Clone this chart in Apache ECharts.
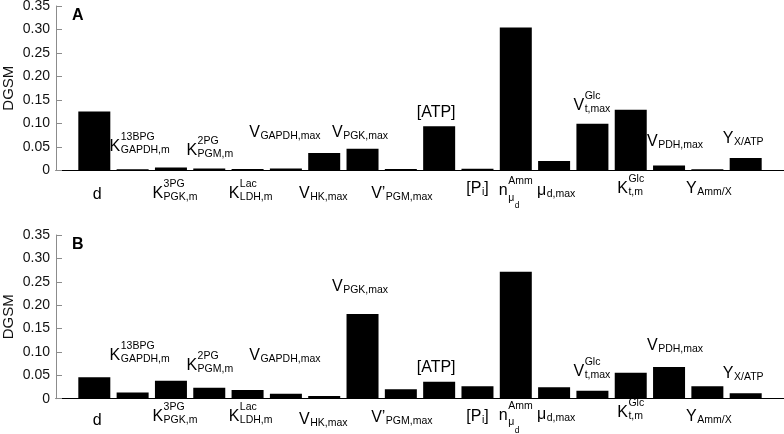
<!DOCTYPE html>
<html><head><meta charset="utf-8">
<script src="https://cdn.jsdelivr.net/npm/echarts@6/dist/echarts.min.js"></script>
<style>html,body{margin:0;padding:0;background:#fff}#c{width:784px;height:434px}</style>
</head><body><div id="c"></div>
<script>
// ---- data ----
const categories = ['d','K13BPG_GAPDH,m','K3PG_PGK,m','K2PG_PGM,m','KLac_LDH,m','V_GAPDH,max','V_HK,max','V_PGK,max',"V'_PGM,max",'[ATP]','[P_i]','n^Amm_mu_d','mu_d,max','V^Glc_t,max','K^Glc_t,m','V_PDH,max','Y_Amm/X','Y_X/ATP'];
const valuesA = [0.125,0.002,0.006,0.004,0.003,0.004,0.037,0.046,0.003,0.094,0.0035,0.304,0.020,0.099,0.129,0.010,0.002,0.026];
const valuesB = [0.046,0.0135,0.0385,0.0235,0.0185,0.0105,0.0058,0.181,0.020,0.0364,0.0264,0.2716,0.0243,0.0172,0.0557,0.0678,0.0264,0.0114];
const yTickValues = [0,0.05,0.10,0.15,0.20,0.25,0.30,0.35];
const panelLetters = ['A','B'];
const yAxisName = 'DGSM';
// label text markup: string = normal text, object = stacked superscript / subscript
const labelParts = [
  ['d'],
  ['K',{sup:'13BPG',sub:'GAPDH,m'}],
  ['K',{sup:'3PG',sub:'PGK,m'}],
  ['K',{sup:'2PG',sub:'PGM,m'}],
  ['K',{sup:'Lac',sub:'LDH,m'}],
  ['V',{sub:'GAPDH,max'}],
  ['V',{sub:'HK,max'}],
  ['V',{sub:'PGK,max'}],
  ['V\u2019',{sub:'PGM,max'}],
  ['[ATP]'],
  ['[P',{sub:'i'},']'],
  ['n',{sup:'Amm',sub:'\u03bc',subsub:'d'}],
  ['\u03bc',{sub:'d,max'}],
  ['V',{sup:'Glc',sub:'t,max'}],
  ['K',{sup:'Glc',sub:'t,m'}],
  ['V',{sub:'PDH,max'}],
  ['Y',{sub:'Amm/X'}],
  ['Y',{sub:'X/ATP'}]
];

// ---- layout (label placement) ----
const labelSide = ['below','above','below','above','below','above','below','above','below','above','below','below','below','above','below','above','below','above'];
const labelLevelA = [null,0.050,null,0.043,null,0.080,null,0.080,null,0.122,null,null,null,0.137,null,0.061,null,0.067];
const labelLevelB = [null,0.093,null,0.070,null,0.092,null,0.239,null,0.067,null,null,null,0.057,null,0.113,null,0.053];
const belowDyA = [24.7,0,23.4,0,23.7,0,23.2,0,23.2,0,18.7,20.7,20.7,0,18.2,0,18.7,0];
const belowDyB = [22.3,0,18,0,18,0,20.5,0,18.8,0,18,16.6,16,0,13.8,0,18,0];
const labelDx = [3,7,4,0.5,3,-1,-1,-2.5,1,-3,0,0,2,-0.5,0,6,1.5,-2.5];
const FAM = '"Liberation Sans", Arial, Helvetica, sans-serif';
const MAIN = 16, SMALL = 10.5, TINY = 8.5;

const cv = document.createElement('canvas').getContext('2d');
function mw(t, s){ cv.font = s + 'px ' + FAM; return cv.measureText(t).width; }
function txt(t, x, y, s){
  return {type:'text', x:x, y:y, style:{text:t, font:'normal ' + s + 'px ' + FAM, fontSize:s, fill:'#000',
    textAlign:'left', textVerticalAlign:'middle', align:'left', verticalAlign:'middle'}};
}
function buildLabel(parts, cx, cy){
  const widths = parts.map(p => {
    if (typeof p === 'string') return mw(p, MAIN);
    const a = p.sup ? mw(p.sup, SMALL) : 0;
    const b = (p.sub ? mw(p.sub, SMALL) : 0) + (p.subsub ? mw(p.subsub, TINY) : 0);
    return Math.max(a, b) + 0.5;
  });
  const total = widths.reduce((s,w)=>s+w,0);
  let x = cx - total/2;
  const out = [];
  parts.forEach((p, k) => {
    if (typeof p === 'string') out.push(txt(p, x, cy, MAIN));
    else {
      const sx = x + 0.5;
      if (p.sup) out.push(txt(p.sup, sx, cy - 9.5, SMALL));
      if (p.subsub) {
        out.push(txt(p.sub, sx, cy + 7, SMALL));
        out.push(txt(p.subsub, sx + mw(p.sub, SMALL) + 0.5, cy + 15, TINY));
      } else if (p.sub) out.push(txt(p.sub, sx, cy + 3.5, SMALL));
    }
    x += widths[k];
  });
  return out;
}
function labelSeries(levels, belowDy, idx){
  return {type:'custom', xAxisIndex:idx, yAxisIndex:idx, clip:false, silent:true, z:10,
    data: categories.map((c,i)=>[i, levels[i]==null ? 0 : levels[i]]),
    renderItem: function(params, api){
      const i = params.dataIndex;
      const x = api.coord([i, 0])[0] + labelDx[i];
      const y = labelSide[i] === 'above' ? api.coord([i, levels[i]])[1] : api.coord([i, 0])[1] + belowDy[i];
      return {type:'group', children: buildLabel(labelParts[i], x, y)};
    }};
}
function barSeries(vals, idx){
  return {type:'bar', xAxisIndex:idx, yAxisIndex:idx, barWidth:32, silent:true,
    itemStyle:{color:'#000'}, data: vals.map((v,i)=>[i, v])};
}
function xAx(idx){
  return {type:'value', gridIndex:idx, min:-1, max:categories.length, 
    axisLine:{show:true, onZero:false, lineStyle:{color:'#000', width:1}},
    axisTick:{show:false}, axisLabel:{show:false}, splitLine:{show:false}};
}
function yAx(idx){
  return {type:'value', gridIndex:idx, min:yTickValues[0], max:yTickValues[yTickValues.length-1], interval:0.05,
    axisLine:{show:true, onZero:false, lineStyle:{color:'#8c8c8c', width:1}},
    axisTick:{show:true, inside:true, length:6, lineStyle:{color:'#8c8c8c'}},
    axisLabel:{margin:6, fontSize:14, fontFamily:FAM, color:'#111',
      formatter: v => Math.abs(v) < 1e-9 ? '0' : v.toFixed(2)},
    splitLine:{show:false},
    name:yAxisName, nameLocation:'middle', nameGap:40, nameMoveOverlap:false,
    nameTextStyle:{fontSize:15, fontFamily:FAM, color:'#111'}};
}
const chart = echarts.init(document.getElementById('c'), null, {renderer:'canvas'});
chart.setOption({
  animation:false,
  backgroundColor:'#fff',
  grid:[{left:56, right:0, top:6, height:164.3, containLabel:false, outerBoundsMode:'none'},
        {left:56, right:0, top:235, height:163.7, containLabel:false, outerBoundsMode:'none'}],
  xAxis:[xAx(0), xAx(1)],
  yAxis:[yAx(0), yAx(1)],
  graphic:[
    {type:'text', left:72, top:7.5, style:{text:panelLetters[0], font:'bold 16px ' + FAM, fill:'#000'}},
    {type:'text', left:72, top:236.5, style:{text:panelLetters[1], font:'bold 16px ' + FAM, fill:'#000'}}
  ],
  series:[barSeries(valuesA,0), barSeries(valuesB,1), labelSeries(labelLevelA,belowDyA,0), labelSeries(labelLevelB,belowDyB,1)]
});
</script></body></html>
